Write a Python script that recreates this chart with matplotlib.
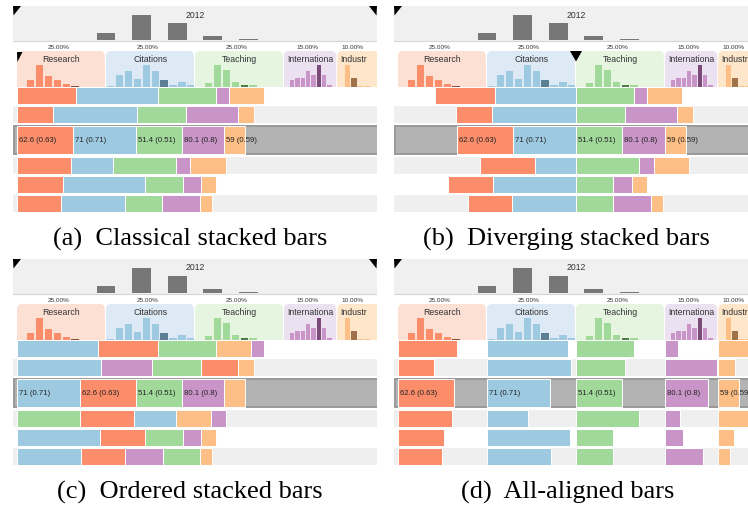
import matplotlib
matplotlib.use('Agg')
import matplotlib.pyplot as plt
from matplotlib.patches import Rectangle, Polygon, FancyBboxPatch

# ranking columns
columns = ['Research', 'Citations', 'Teaching', 'International', 'Industry']
header_names = ['Research', 'Citations', 'Teaching', 'Internationa', 'Industr']
weights = [0.25, 0.25, 0.25, 0.15, 0.10]
weight_labels = ['25.00%', '25.00%', '25.00%', '15.00%', '10.00%']

# normalised scores per row (top to bottom)
research = [0.667, 0.408, 0.626, 0.610, 0.513, 0.498]
citations = [0.914, 0.940, 0.710, 0.464, 0.929, 0.716]
teaching = [0.652, 0.551, 0.514, 0.708, 0.419, 0.419]
international = [0.243, 0.968, 0.801, 0.275, 0.343, 0.712]
industry = [0.983, 0.470, 0.590, 1.000, 0.430, 0.318]
scores = [research, citations, teaching, international, industry]

# selected row and its raw values
selected_row = 2
selected_raw = [62.6, 71, 51.4, 80.1, 59]

# distribution of the 2012 total score
year_bins = [0.2, 0.3, 0.4, 0.5, 0.6]
year_counts = [21, 75, 50, 11, 3]

# distribution of every column (10 bins), marked bin drawn darker
research_hist = [0, 22, 66, 32, 22, 8, 3, 0, 0, 0]
citations_hist = [2, 37, 47, 25, 65, 47, 20, 7, 15, 5]
teaching_hist = [0, 12, 67, 50, 15, 7, 5, 0, 0, 0]
international_hist = [0, 22, 28, 28, 47, 37, 67, 37, 5, 0]
industry_hist = [0, 67, 27, 3, 3, 0, 0, 0, 0, 0]
hists = [research_hist, citations_hist, teaching_hist, international_hist, industry_hist]
hist_marked = [6, 6, 5, 6, 2]

colors = ['#fb8d6b', '#9ecae1', '#a1d99b', '#c994c7', '#fdbf85']
header_bg = ['#fde0d4', '#dde9f5', '#e6f5e0', '#ebe1f0', '#fee6ca']
dark = ['#8a4a3a', '#5c7f93', '#4e7d48', '#7a4a78', '#a0724a']

W = 356.0        # px for 100 %
X0 = 4.0
PANEL_W = 364.0
PANEL_H = 206.0
row_heights = [17, 17, 30, 17, 17, 17]
ui_font = 'Liberation Sans'

panels = [
    ('stacked', 13, 7, '(a)  Classical stacked bars', 190, 239, []),
    ('diverging', 394, 7, '(b)  Diverging stacked bars', 566, 239, []),
    ('ordered', 13, 260, '(c)  Ordered stacked bars', 190, 492, ['Industry']),
    ('aligned', 394, 260, '(d)  All-aligned bars', 568, 492, []),
]

fig = plt.figure(figsize=(7.48, 5.10), dpi=100)

col_start = []
acc = 0
for w in weights:
    col_start.append(X0 + acc * W)
    acc += w


def segments(mode, r):
    widths = [scores[c][r] * weights[c] * W for c in range(len(columns))]
    xs = [0] * len(columns)
    if mode == 'stacked':
        x = X0
        for c in range(len(columns)):
            xs[c] = x
            x += widths[c]
    elif mode == 'ordered':
        x = X0
        for c in sorted(range(len(columns)), key=lambda i: -widths[i]):
            xs[c] = x
            x += widths[c]
    elif mode == 'diverging':
        center = col_start[2]
        xs[1] = center - widths[1]
        xs[0] = xs[1] - widths[0]
        x = center
        for c in range(2, len(columns)):
            xs[c] = x
            x += widths[c]
    else:
        xs = list(col_start)
    return xs, widths


for mode, ox, oy, caption, cx, cy, hidden in panels:
    ax = fig.add_axes([ox / 748, 1 - (oy + PANEL_H) / 510, PANEL_W / 748, PANEL_H / 510])
    ax.set_xlim(0, PANEL_W)
    ax.set_ylim(PANEL_H, 0)
    ax.axis('off')

    # year histogram box
    ax.add_patch(Rectangle((0, 0), PANEL_W, 35, fc='#f0f0f0', ec='none'))
    ax.plot([0, PANEL_W], [35, 35], color='#d6d6d6', lw=0.8)
    for b, n in zip(year_bins, year_counts):
        h = n / 3.0
        ax.add_patch(Rectangle((X0 + (b + 0.0235) * W, 34 - h), 0.053 * W, h, fc='#777777', ec='none'))
    ax.text(X0 + 0.5 * W, 8, '2012', ha='center', va='center', fontsize=6.2,
            family=ui_font, color='#333333')
    ax.add_patch(Polygon([(0, 0), (8, 0), (0.5, 9.5)], closed=True, fc='black', ec='none'))
    if mode in ('stacked', 'ordered'):
        ax.add_patch(Polygon([(PANEL_W, 0), (PANEL_W - 8, 0), (PANEL_W - 0.5, 9.5)],
                             closed=True, fc='black', ec='none'))

    # column headers
    for c in range(len(columns)):
        cw = weights[c] * W
        hw = max(cw, 65) if c == len(columns) - 1 else cw
        x = col_start[c]
        ax.text(x + cw / 2 - 3, 40, weight_labels[c], ha='center', va='center',
                fontsize=4.6, family=ui_font, color='#333333')
        ax.add_patch(FancyBboxPatch((x, 45), hw - 1.2, 36, boxstyle='round,pad=0,rounding_size=5',
                                    fc=header_bg[c], ec='none'))
        ax.add_patch(Rectangle((x, 60), hw - 1.2, 21, fc=header_bg[c], ec='none'))
        if c == len(columns) - 1:
            ax.text(x + 3, 52.5, header_names[c], ha='left', va='center', fontsize=6.3,
                    family=ui_font, color='#333333', clip_on=True)
        else:
            ax.text(x + cw / 2, 52.5, header_names[c], ha='center', va='center', fontsize=6.3,
                    family=ui_font, color='#333333', clip_on=True)
        bw = hw / 10.0
        for i, n in enumerate(hists[c]):
            if n == 0:
                continue
            h = n / 3.0
            fc = dark[c] if i == hist_marked[c] else colors[c]
            ax.add_patch(Rectangle((x + i * bw + 0.12 * bw, 81 - h), 0.82 * bw, h, fc=fc, ec='none'))
    if mode == 'stacked':
        ax.add_patch(Polygon([(4, 46), (9.5, 46), (4.3, 56)], closed=True, fc='black', ec='none'))
    if mode == 'diverging':
        ax.add_patch(Polygon([(col_start[2] - 6, 45), (col_start[2] + 6, 45), (col_start[2], 55.5)],
                             closed=True, fc='black', ec='none'))

    # rows
    y = 81
    for r, rh in enumerate(row_heights):
        if r == selected_row:
            ax.add_patch(Rectangle((0.6, y + 0.6), PANEL_W + 5, rh - 1.2, fc='#b3b3b3',
                                   ec='#999999', lw=1.4))
        elif r % 2 == 1:
            ax.add_patch(Rectangle((0, y), PANEL_W, rh, fc='#efefef', ec='none'))
        xs, widths = segments(mode, r)
        inset = 1.2 if r == selected_row else 0
        for c in range(len(columns)):
            ax.add_patch(Rectangle((xs[c], y + inset), widths[c], rh - 2 * inset,
                                   fc=colors[c], ec='white', lw=0.7))
        if r == selected_row:
            for c in range(len(columns)):
                if columns[c] in hidden:
                    continue
                raw = selected_raw[c]
                label = '%g (%g)' % (raw, round(raw / 100.0, 2))
                ax.text(xs[c] + 2, y + rh / 2, label, ha='left', va='center', fontsize=5.6,
                        family=ui_font, color='#222222', clip_on=True)
        y += rh + 2

    fig.text(cx / 748, 1 - cy / 510, caption, ha='center', va='center', fontsize=19,
             family='Liberation Serif', color='black')

fig.savefig('out.png', dpi=100)
